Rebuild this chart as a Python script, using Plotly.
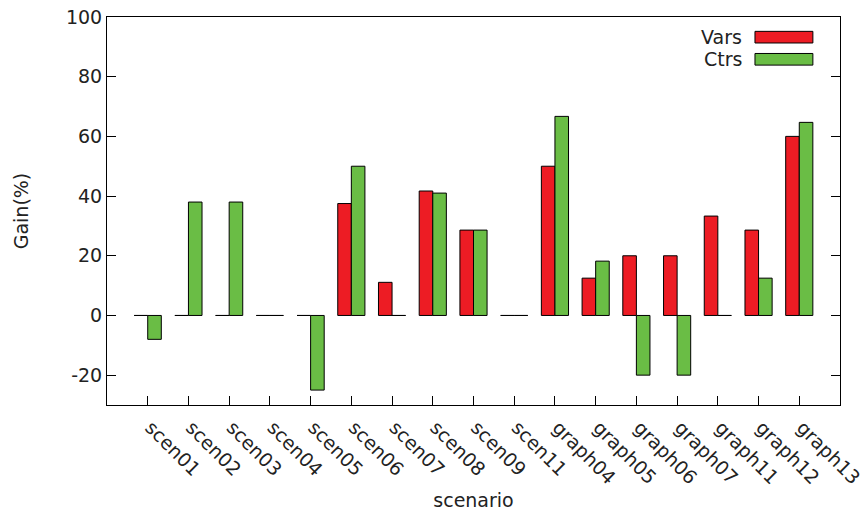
import plotly.graph_objects as go

categories = ["scen01", "scen02", "scen03", "scen04", "scen05", "scen06", "scen07", "scen08",
              "scen09", "scen11", "graph04", "graph05", "graph06", "graph07", "graph11", "graph12", "graph13"]
vars_gain = [0, 0, 0, 0, 0, 37.5, 11.1, 41.7, 28.6, 0, 50.0, 12.5, 20.0, 20.0, 33.3, 28.6, 60.0]
ctrs_gain = [-8.0, 38.0, 38.0, 0, -25.0, 50.0, 0, 41.0, 28.6, 0, 66.7, 18.2, -20.0, -20.0, 0, 12.5, 64.7]
y_ticks = [-20, 0, 20, 40, 60, 80, 100]
y_tick_labels = ["-20", "0", "20", "40", "60", "80", "100"]

RED = "#ED1C24"
GREEN = "#6ABD45"
FONT = "DejaVu Sans"
TXT = "#222222"
FS = 19

def disp(vals):
    # zero-valued bars drawn as a flat outline (as in the original)
    return [v if v != 0 else 1e-9 for v in vals]

xs = list(range(len(categories)))
fig = go.Figure()
fig.add_trace(go.Bar(x=xs, y=disp(vars_gain), name="Vars",
                     marker=dict(color=RED, line=dict(color="black", width=1))))
fig.add_trace(go.Bar(x=xs, y=disp(ctrs_gain), name="Ctrs",
                     marker=dict(color=GREEN, line=dict(color="black", width=1))))

fig.update_layout(
    width=864, height=514,
    margin=dict(l=107, r=24, t=17, b=109),
    paper_bgcolor="white", plot_bgcolor="white",
    barmode="group", bargap=1/3, bargroupgap=0,
    showlegend=False,
    font=dict(family=FONT, size=FS, color=TXT),
)
fig.update_xaxes(
    range=[-1, 17], tickmode="array",
    tickvals=xs, ticktext=categories,
    tickangle=45, ticks="inside", ticklen=9, tickcolor="black", tickwidth=1,
    ticklabelstandoff=3, ticklabelshift=3, ticklabeloverflow="allow",
    showline=True, linecolor="black", linewidth=1, mirror=True,
    showgrid=False, zeroline=False, automargin=False,
    title=dict(text="scenario", font=dict(size=FS), standoff=6),
)
fig.update_yaxes(
    range=[-30, 100], tickmode="array", tickvals=y_ticks, ticktext=y_tick_labels,
    ticks="inside", ticklen=9, tickcolor="black", tickwidth=1,
    showline=True, linecolor="black", linewidth=1, mirror="ticks",
    showgrid=False, zeroline=False, automargin=False,
    title=dict(text="Gain(%)", font=dict(size=FS), standoff=32),
)

# gnuplot-style legend: label followed by a swatch
legend_items = [("Vars", RED), ("Ctrs", GREEN)]
for i, (name, col) in enumerate(legend_items):
    yc = 0.948 - i * 0.057
    fig.add_shape(type="rect", xref="paper", yref="paper",
                  x0=0.884, x1=0.963, y0=yc - 0.015, y1=yc + 0.015,
                  fillcolor=col, line=dict(color="black", width=1))
    fig.add_annotation(text=name, xref="paper", yref="paper", x=0.869, y=yc,
                       xanchor="right", yanchor="middle", showarrow=False,
                       font=dict(size=FS, color=TXT))

fig.write_html("out.html", config={"displayModeBar": False},
               post_script="document.body.style.margin='0';document.body.style.overflow='hidden';")
